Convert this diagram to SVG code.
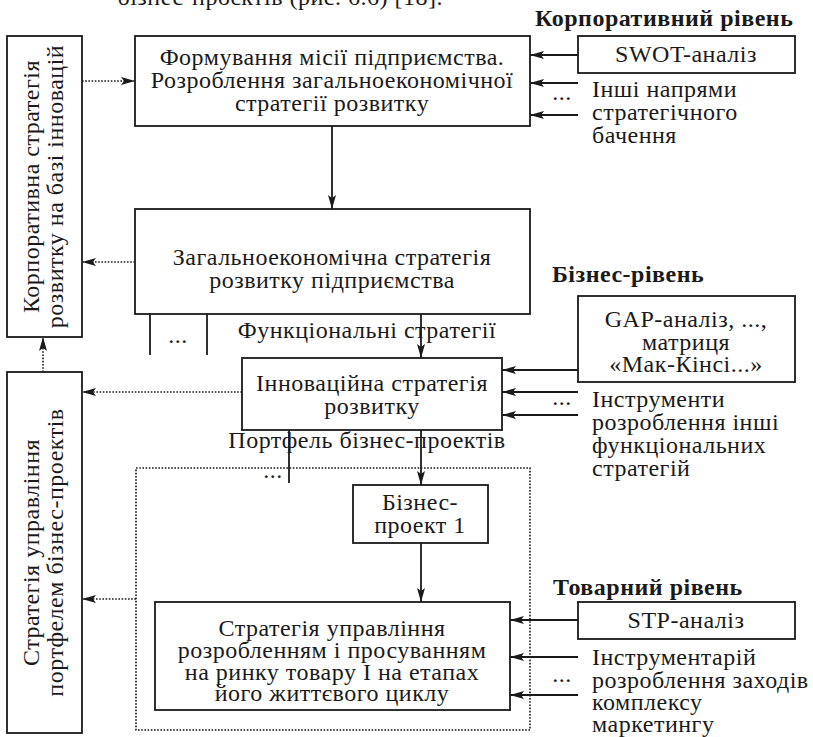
<svg xmlns="http://www.w3.org/2000/svg" width="813" height="737" viewBox="0 0 813 737">
<defs>
<marker id="ah" viewBox="0 0 14 8" refX="14" refY="4" markerWidth="14" markerHeight="8" markerUnits="userSpaceOnUse" orient="auto">
<path d="M0,0 L14,4 L0,8 L3,4 Z" fill="#1a1a1a"/>
</marker>
</defs>
<style>
text{font-family:"Liberation Serif","Times New Roman",serif;font-size:24px;letter-spacing:0.5px;fill:#1a1a1a}
.c{text-anchor:middle}
.b{font-weight:bold}
.box{fill:#fff;stroke:#1a1a1a;stroke-width:1.8}
.dotbox{fill:none;stroke:#1a1a1a;stroke-width:1.6;stroke-dasharray:1.6 1.6}
.ln{fill:none;stroke:#1a1a1a;stroke-width:1.8}
.ar{fill:none;stroke:#1a1a1a;stroke-width:1.8;marker-end:url(#ah)}
.da{fill:none;stroke:#1a1a1a;stroke-width:1.6;stroke-dasharray:1.6 1.6;marker-end:url(#ah)}
</style>
<rect width="813" height="737" fill="#fff"/>
<text x="443" y="5" style="text-anchor:end">бізнес-проєктів (рис. 6.6) [18].</text>

<g id="portfolio-frame"><rect class="dotbox" x="136" y="468" width="394" height="262"/></g>

<g id="connectors">
<line class="da" x1="82" y1="81" x2="135" y2="81"/>
<line class="ar" x1="332" y1="126" x2="332" y2="209"/>
<line class="da" x1="135" y1="262" x2="82" y2="262"/>
<line class="da" x1="43" y1="372" x2="43" y2="337"/>
<line class="ln" x1="150" y1="314" x2="150" y2="355"/>
<line class="ln" x1="207" y1="314" x2="207" y2="355"/>
<line class="ar" x1="421" y1="314" x2="421" y2="358"/>
<line class="da" x1="242" y1="392" x2="82" y2="392"/>
<line class="ln" x1="289" y1="430" x2="289" y2="483"/>
<line class="ar" x1="421" y1="430" x2="421" y2="485"/>
<line class="ar" x1="421" y1="543" x2="421" y2="602"/>
<line class="da" x1="136" y1="599" x2="82" y2="599"/>
<line class="ar" x1="578" y1="55" x2="530" y2="55"/>
<line class="ar" x1="578" y1="83" x2="530" y2="83"/>
<line class="ar" x1="578" y1="115" x2="530" y2="115"/>
<line class="ar" x1="578" y1="370" x2="502" y2="370"/>
<line class="ar" x1="578" y1="392" x2="502" y2="392"/>
<line class="ar" x1="578" y1="415" x2="502" y2="415"/>
<line class="ar" x1="578" y1="620" x2="510" y2="620"/>
<line class="ar" x1="578" y1="657" x2="510" y2="657"/>
<line class="ar" x1="578" y1="695" x2="510" y2="695"/>
<text class="c" x="178" y="343">...</text>
<text class="c" x="367" y="338">Функціональні стратегії</text>
<text class="c" x="367" y="448">Портфель бізнес-проектів</text>
<text class="c" x="273" y="478">...</text>
<text class="c" x="562" y="100">...</text>
<text class="c" x="562" y="405">...</text>
<text class="c" x="562" y="682">...</text>
</g>

<g id="corp-innov">
<rect class="box" x="7" y="36" width="75" height="301"/>
<g transform="translate(44.5,186.5) rotate(-90)">
<text class="c" x="0" y="-6">Корпоративна стратегія</text>
<text class="c" x="0" y="18">розвитку на базі інновацій</text>
</g>
</g>

<g id="portfolio-strategy">
<rect class="box" x="7" y="372" width="75" height="361"/>
<g transform="translate(44.5,552.5) rotate(-90)">
<text class="c" x="0" y="-6">Стратегія управління</text>
<text class="c" x="0" y="18">портфелем бізнес-проектів</text>
</g>
</g>

<g id="mission">
<rect class="box" x="135" y="36" width="395" height="90"/>
<text class="c" x="332" y="65">Формування місії підприємства.</text>
<text class="c" x="332" y="88">Розроблення загальноекономічної</text>
<text class="c" x="332" y="111">стратегії розвитку</text>
</g>

<g id="general-strategy">
<rect class="box" x="135" y="209" width="395" height="105"/>
<text class="c" x="332" y="265">Загальноекономічна стратегія</text>
<text class="c" x="332" y="288">розвитку підприємства</text>
</g>

<g id="innovation">
<rect class="box" x="242" y="358" width="260" height="72"/>
<text class="c" x="372" y="391">Інноваційна стратегія</text>
<text class="c" x="372" y="414">розвитку</text>
</g>

<g id="project1">
<rect class="box" x="353" y="485" width="135" height="58"/>
<text class="c" x="420" y="510">Бізнес-</text>
<text class="c" x="420" y="533">проект 1</text>
</g>

<g id="product-strategy">
<rect class="box" x="155" y="602" width="355" height="108"/>
<text class="c" x="332" y="636">Стратегія управління</text>
<text class="c" x="332" y="658">розробленням і просуванням</text>
<text class="c" x="332" y="680">на ринку товару І на етапах</text>
<text class="c" x="332" y="701">його життєвого циклу</text>
</g>

<g id="corp-level">
<text class="b" x="535" y="26">Корпоративний рівень</text>
<rect class="box" x="578" y="36" width="217" height="37"/>
<text class="c" x="686" y="62">SWOT-аналіз</text>
<text x="592" y="97">Інші напрями</text>
<text x="592" y="120">стратегічного</text>
<text x="592" y="143">бачення</text>
</g>

<g id="business-level">
<text class="b" x="552" y="282">Бізнес-рівень</text>
<rect class="box" x="578" y="296" width="217" height="86"/>
<text class="c" x="686" y="327">GAP-аналіз, ...,</text>
<text class="c" x="686" y="350">матриця</text>
<text class="c" x="686" y="372">«Мак-Кінсі...»</text>
<text x="592" y="407">Інструменти</text>
<text x="592" y="430">розроблення інші</text>
<text x="592" y="453">функціональних</text>
<text x="592" y="476">стратегій</text>
</g>

<g id="product-level">
<text class="b" x="553" y="595">Товарний рівень</text>
<rect class="box" x="578" y="602" width="217" height="37"/>
<text class="c" x="686" y="628">STP-аналіз</text>
<text x="592" y="665">Інструментарій</text>
<text x="592" y="688">розроблення заходів</text>
<text x="592" y="710">комплексу</text>
<text x="592" y="732">маркетингу</text>
</g>
</svg>
